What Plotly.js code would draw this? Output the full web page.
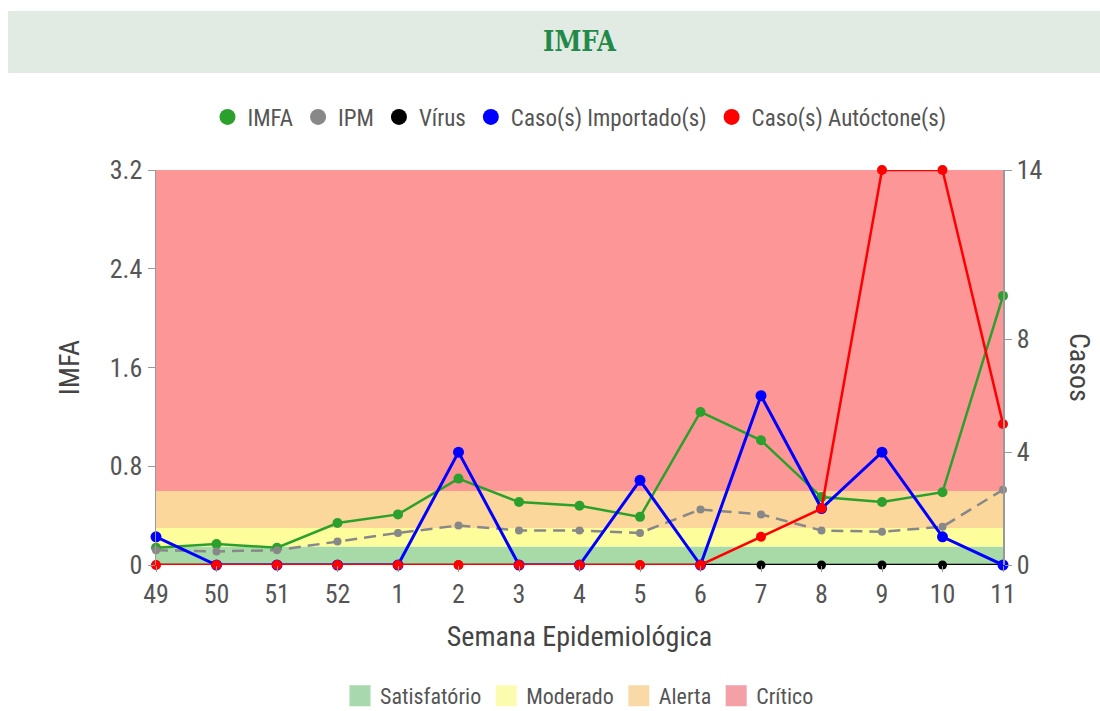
<!DOCTYPE html>
<html>
<head>
<meta charset="utf-8">
<script src="https://cdn.plot.ly/plotly-3.0.1.min.js"></script>
<style>
html, body { margin: 0; padding: 0; background: #fff; }
#chart { width: 1100px; height: 711px; }
svg text { font-stretch: semi-condensed; }
</style>
</head>
<body>
<div id="chart"></div>
<script>
// ---- data ----
const weeks = ['49','50','51','52','1','2','3','4','5','6','7','8','9','10','11'];
const imfa = [0.14,0.17,0.14,0.34,0.41,0.70,0.51,0.48,0.39,1.24,1.01,0.55,0.51,0.59,2.18];
const ipm = [0.12,0.11,0.12,0.19,0.26,0.32,0.28,0.28,0.26,0.45,0.41,0.28,0.27,0.31,0.61];
const virus = [0,0,0,0,0,0,0,0,0,0,0,0,0,0,0];
const importados = [1,0,0,0,0,4,0,0,3,0,6,2,4,1,0];
const autoctones = [0,0,0,0,0,0,0,0,0,0,1,2,14,14,5];

const bandNames = ['Satisfatório','Moderado','Alerta','Crítico'];
const bandTops = [0.15,0.3,0.6,3.2];
const bandColors = ['#a8daa8','#fdfd9c','#fbd79b','#fd9797'];
const bandLegendColors = ['#a8d8ae','#fbfcb0','#f9d9a8','#f3a0a6'];

const seriesNames = ['IMFA','IPM','Vírus','Caso(s) Importado(s)','Caso(s) Autóctone(s)'];
const seriesColors = ['#2ca02c','#888888','#000000','#0000ff','#ff0000'];

const leftTicks = [0,0.8,1.6,2.4,3.2];
const rightTicks = [0,4,8,14];

// ---- traces ----
const FONT = 'Roboto, "Open Sans", sans-serif';
const traces = [];

bandTops.forEach((t, i) => {
  traces.push({
    x: weeks, y: weeks.map(() => t), type: 'scatter', mode: 'lines',
    line: {width: 0}, fill: i === 0 ? 'tozeroy' : 'tonexty',
    fillcolor: bandColors[i], showlegend: false, hoverinfo: 'skip', yaxis: 'y'
  });
});

traces.push({
  x: weeks, y: imfa, name: seriesNames[0], type: 'scatter', mode: 'lines+markers',
  line: {color: seriesColors[0], width: 2.5}, marker: {color: seriesColors[0], size: 10},
  showlegend: false, cliponaxis: false, yaxis: 'y'
});
traces.push({
  x: weeks, y: ipm, name: seriesNames[1], type: 'scatter', mode: 'lines+markers',
  line: {color: seriesColors[1], width: 2.5, dash: '12px,7px'}, marker: {color: seriesColors[1], size: 8},
  showlegend: false, cliponaxis: false, yaxis: 'y'
});
traces.push({
  x: weeks, y: virus, name: seriesNames[2], type: 'scatter', mode: 'lines+markers',
  line: {color: seriesColors[2], width: 2.5}, marker: {color: seriesColors[2], size: 9},
  showlegend: false, cliponaxis: false, yaxis: 'y2'
});
traces.push({
  x: weeks, y: importados, name: seriesNames[3], type: 'scatter', mode: 'lines+markers',
  line: {color: seriesColors[3], width: 3}, marker: {color: seriesColors[3], size: 11},
  showlegend: false, cliponaxis: false, yaxis: 'y2'
});
traces.push({
  x: weeks, y: autoctones, name: seriesNames[4], type: 'scatter', mode: 'lines+markers',
  line: {color: seriesColors[4], width: 2.5}, marker: {color: seriesColors[4], size: 10},
  showlegend: false, cliponaxis: false, yaxis: 'y2'
});

// legend entries (top)
seriesNames.forEach((n, i) => {
  traces.push({
    x: [null], y: [null], name: n, type: 'scatter', mode: 'markers',
    marker: {color: seriesColors[i], size: 16, symbol: 'circle'},
    showlegend: true, legend: 'legend', legendgroup: 's' + i, hoverinfo: 'skip'
  });
});
// legend entries (bottom)
bandNames.forEach((n, i) => {
  traces.push({
    x: [null], y: [null], name: n, type: 'scatter', mode: 'markers',
    marker: {color: bandLegendColors[i], size: 16, symbol: 'square',
             line: {color: bandLegendColors[i], width: 5}},
    showlegend: true, legend: 'legend2', legendgroup: 'b' + i, hoverinfo: 'skip'
  });
});

const layout = {
  width: 1100, height: 711,
  margin: {l: 156, r: 97, t: 170, b: 146},
  paper_bgcolor: '#ffffff', plot_bgcolor: '#ffffff',
  font: {family: FONT, color: '#555555', size: 20},
  title: {
    text: '<b>IMFA</b>', xref: 'paper', x: 0.5, xanchor: 'center',
    yref: 'container', y: 1 - 42/711, yanchor: 'middle',
    font: {family: '"DejaVu Serif", serif', size: 27, color: '#22894a'}
  },
  shapes: [{
    type: 'rect', xref: 'paper', yref: 'paper', layer: 'below',
    x0: (8-156)/847, x1: (1100-156)/847, y0: (565-73)/395, y1: (565-11)/395,
    fillcolor: '#e2ebe3', line: {width: 0}
  }],
  xaxis: {
    type: 'category', range: [0, 14], showgrid: false, zeroline: false, automargin: false,
    showline: false, ticks: 'outside', ticklen: 6, tickcolor: '#999999',
    tickfont: {size: 26, color: '#555555'},
    title: {text: 'Semana Epidemiológica', standoff: 18, font: {size: 28, color: '#444444'}}
  },
  yaxis: {
    range: [0, 3.2], tickvals: leftTicks, ticktext: leftTicks.map(v => String(v)), automargin: false,
    showgrid: false, zeroline: false, showline: true, linecolor: '#999999', linewidth: 1.5,
    ticks: 'outside', ticklen: 7, tickcolor: '#999999',
    tickfont: {size: 26, color: '#555555'},
    title: {text: 'IMFA', standoff: 22, font: {size: 28, color: '#444444'}}
  },
  yaxis2: {
    overlaying: 'y', side: 'right', range: [0, 14], tickvals: rightTicks, automargin: false,
    showgrid: false, zeroline: false, showline: true, linecolor: '#999999', linewidth: 1.5,
    ticks: 'outside', ticklen: 7, tickcolor: '#999999',
    tickfont: {size: 26, color: '#555555'}
  },
  annotations: [{
    text: 'Casos', xref: 'paper', yref: 'paper', x: (1080-156)/847, y: (565-367)/395,
    showarrow: false, textangle: 90, font: {size: 28, color: '#444444'},
    xanchor: 'center', yanchor: 'middle'
  }],
  legend: {
    orientation: 'h', traceorder: 'grouped', tracegroupgap: 14,
    x: 0.5, xanchor: 'center', xref: 'paper',
    yref: 'container', y: 1 - 117/711, yanchor: 'middle',
    font: {size: 23, color: '#555555'}, itemwidth: 30,
    bgcolor: 'rgba(0,0,0,0)'
  },
  legend2: {
    orientation: 'h', traceorder: 'grouped', tracegroupgap: 14,
    x: 0.5, xanchor: 'center', xref: 'paper',
    yref: 'container', y: 1 - 696/711, yanchor: 'middle',
    font: {size: 22, color: '#555555'}, itemwidth: 30,
    bgcolor: 'rgba(0,0,0,0)'
  },
  showlegend: true
};

Plotly.newPlot('chart', traces, layout, {displayModeBar: false, staticPlot: true});
</script>
</body>
</html>
